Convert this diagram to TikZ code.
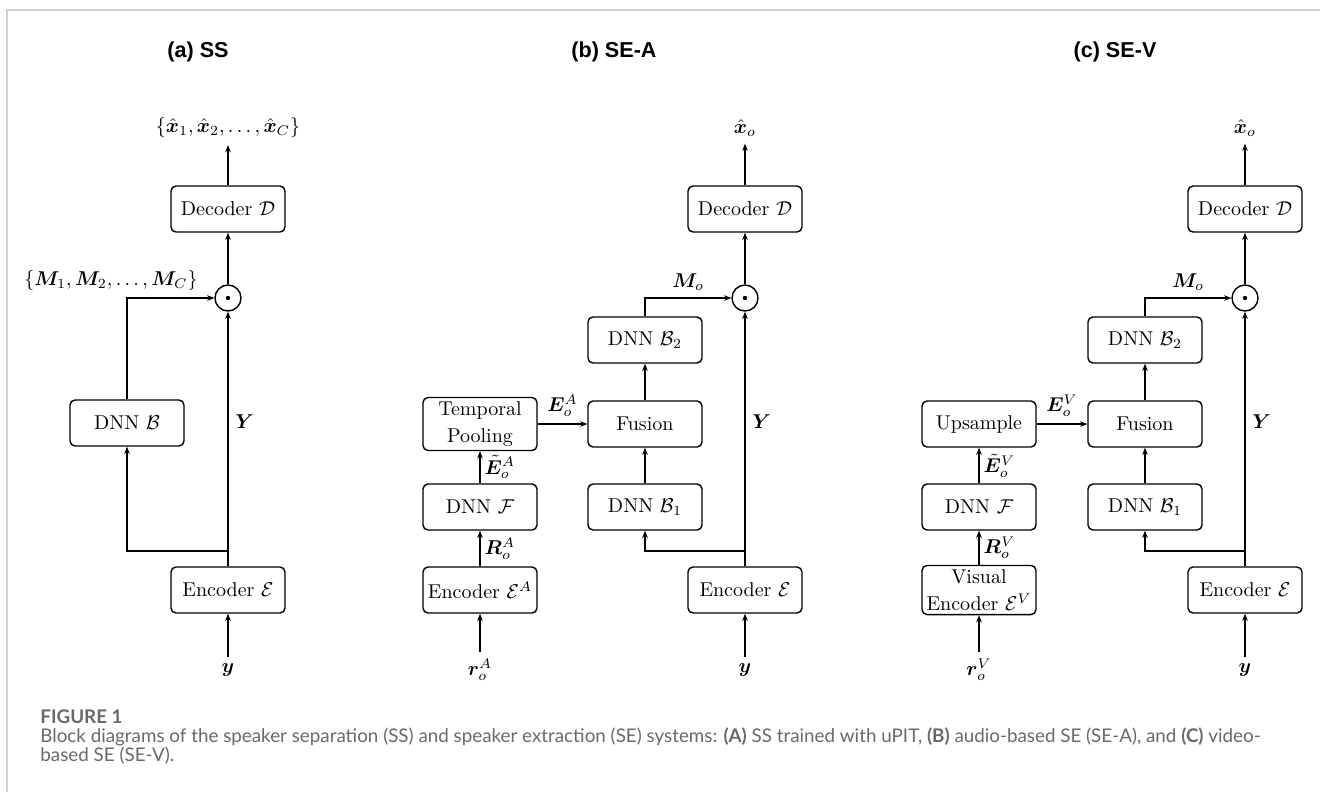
\documentclass[tikz,border=0pt]{standalone}
\usepackage{amsmath,bm}
\usepackage{fontspec}
\newfontfamily\headfont{Liberation Sans}
\newfontfamily\capfont{Lato}
\usetikzlibrary{arrows.meta}
\definecolor{framegray}{RGB}{208,208,208}
\definecolor{capgray}{RGB}{105,105,105}
\tikzstyle{blk}=[draw, rounded corners=2.5pt, line width=0.7pt, minimum width=57pt, minimum height=23pt, align=center, inner sep=2pt, font=\fontsize{10}{13.5}\selectfont]
\tikzstyle{odot}=[draw, circle, line width=0.7pt, minimum size=13pt, inner sep=0pt]
\tikzstyle{arr}=[line width=0.7pt, -{Stealth[length=3.6pt,width=2.8pt]}]
\tikzstyle{ttl}=[font=\headfont\bfseries\fontsize{10.8}{13}\selectfont]
\tikzstyle{captxt}=[anchor=base west, inner sep=0pt, text=capgray, font=\capfont\fontsize{9.4}{9.5}\selectfont]

\begin{document}
\begin{tikzpicture}[x=0.5pt,y=-0.5pt]
    \useasboundingbox (0,0) rectangle (1320,792);
    \draw[framegray, line width=1pt] (7,792) -- (7,10) -- (1320,10);

    \node[ttl] (ta) at (198,52) {(a) SS};
    \node (outa) at (228,128) {$\{\hat{\bm x}_1,\hat{\bm x}_2,\dots,\hat{\bm x}_C\}$};
    \node[blk] (deca) at (228,209) {Decoder $\mathcal{D}$};
    \node[odot] (mula) at (228,298) {};
    \node[blk] (dnna) at (127,423) {DNN $\mathcal{B}$};
    \node[blk] (enca) at (228,590) {Encoder $\mathcal{E}$};
    \node (ina) at (228,670) {$\bm y$};
    \coordinate (sa) at (228,551);
    \coordinate (ka) at (127,298);
    \fill (mula) circle (1.1pt);
    \draw[arr] (ina) -- (enca);
    \draw[arr] (enca) -- node[right, pos=0.57] {$\bm Y$} (mula);
    \draw[arr] (sa) -| (dnna);
    \draw[arr] (dnna) -- (ka) node[above, xshift=-8pt] {$\{\bm M_1,\bm M_2,\dots,\bm M_C\}$} -- (mula);
    \draw[arr] (mula) -- (deca);
    \draw[arr] (deca) -- (outa);

    \node[ttl] (tb) at (614,52) {(b) SE-A};
    \node (outb) at (745,128) {$\hat{\bm x}_o$};
    \node[blk] (decb) at (745,209) {Decoder $\mathcal{D}$};
    \node[odot] (mulb) at (745,298) {};
    \node[blk] (bb2) at (645,340) {DNN $\mathcal{B}_2$};
    \node[blk] (fusb) at (645,424) {Fusion};
    \node[blk] (bb1) at (645,507) {DNN $\mathcal{B}_1$};
    \node[blk] (encb) at (745,590) {Encoder $\mathcal{E}$};
    \node (inb) at (745,670) {$\bm y$};
    \node[blk] (poolb) at (480,424) {Temporal\\Pooling};
    \node[blk] (dnnfb) at (480,507) {DNN $\mathcal{F}$};
    \node[blk] (encab) at (480,590) {Encoder $\mathcal{E}^A$};
    \node (inab) at (480,670) {$\bm r_o^A$};
    \coordinate (sb) at (745,551);
    \coordinate (kb) at (645,298);
    \fill (mulb) circle (1.1pt);
    \draw[arr] (inb) -- (encb);
    \draw[arr] (encb) -- node[right, pos=0.57] {$\bm Y$} (mulb);
    \draw[arr] (sb) -| (bb1);
    \draw[arr] (bb1) -- (fusb);
    \draw[arr] (fusb) -- (bb2);
    \draw[arr] (bb2) -- (kb) -- node[above] {$\bm M_o$} (mulb);
    \draw[arr] (mulb) -- (decb);
    \draw[arr] (decb) -- (outb);
    \draw[arr] (inab) -- (encab);
    \draw[arr] (encab) -- node[right, inner sep=2pt] {$\bm R_o^A$} (dnnfb);
    \draw[arr] (dnnfb) -- node[right, inner sep=2pt] {$\tilde{\bm E}_o^A$} (poolb);
    \draw[arr] (poolb) -- node[above] {$\bm E_o^A$} (fusb);

    \node[ttl] (tc) at (1115,52) {(c) SE-V};
    \node (outc) at (1245,128) {$\hat{\bm x}_o$};
    \node[blk] (decc) at (1245,209) {Decoder $\mathcal{D}$};
    \node[odot] (mulc) at (1245,298) {};
    \node[blk] (bc2) at (1145,340) {DNN $\mathcal{B}_2$};
    \node[blk] (fusc) at (1145,424) {Fusion};
    \node[blk] (bc1) at (1145,507) {DNN $\mathcal{B}_1$};
    \node[blk] (encc) at (1245,590) {Encoder $\mathcal{E}$};
    \node (inc) at (1245,670) {$\bm y$};
    \node[blk] (upc) at (979,424) {Upsample};
    \node[blk] (dnnfc) at (979,507) {DNN $\mathcal{F}$};
    \node[blk] (encvc) at (979,590) {Visual\\Encoder $\mathcal{E}^V$};
    \node (invc) at (979,670) {$\bm r_o^V$};
    \coordinate (sc) at (1245,551);
    \coordinate (kc) at (1145,298);
    \fill (mulc) circle (1.1pt);
    \draw[arr] (inc) -- (encc);
    \draw[arr] (encc) -- node[right, pos=0.57] {$\bm Y$} (mulc);
    \draw[arr] (sc) -| (bc1);
    \draw[arr] (bc1) -- (fusc);
    \draw[arr] (fusc) -- (bc2);
    \draw[arr] (bc2) -- (kc) -- node[above] {$\bm M_o$} (mulc);
    \draw[arr] (mulc) -- (decc);
    \draw[arr] (decc) -- (outc);
    \draw[arr] (invc) -- (encvc);
    \draw[arr] (encvc) -- node[right, inner sep=2pt] {$\bm R_o^V$} (dnnfc);
    \draw[arr] (dnnfc) -- node[right, inner sep=2pt] {$\tilde{\bm E}_o^V$} (upc);
    \draw[arr] (upc) -- node[above] {$\bm E_o^V$} (fusc);

    \node[captxt, font=\capfont\bfseries\fontsize{9.4}{9.5}\selectfont] (capfig) at (40,723) {FIGURE 1};
    \node[captxt] (capl1) at (40,742) {Block diagrams of the speaker separation (SS) and speaker extraction (SE) systems: {\bfseries(A)} SS trained with uPIT, {\bfseries(B)} audio-based SE (SE-A), and {\bfseries(C)} video-};
    \node[captxt] (capl2) at (40,761) {based SE (SE-V).};
\end{tikzpicture}
\end{document}
